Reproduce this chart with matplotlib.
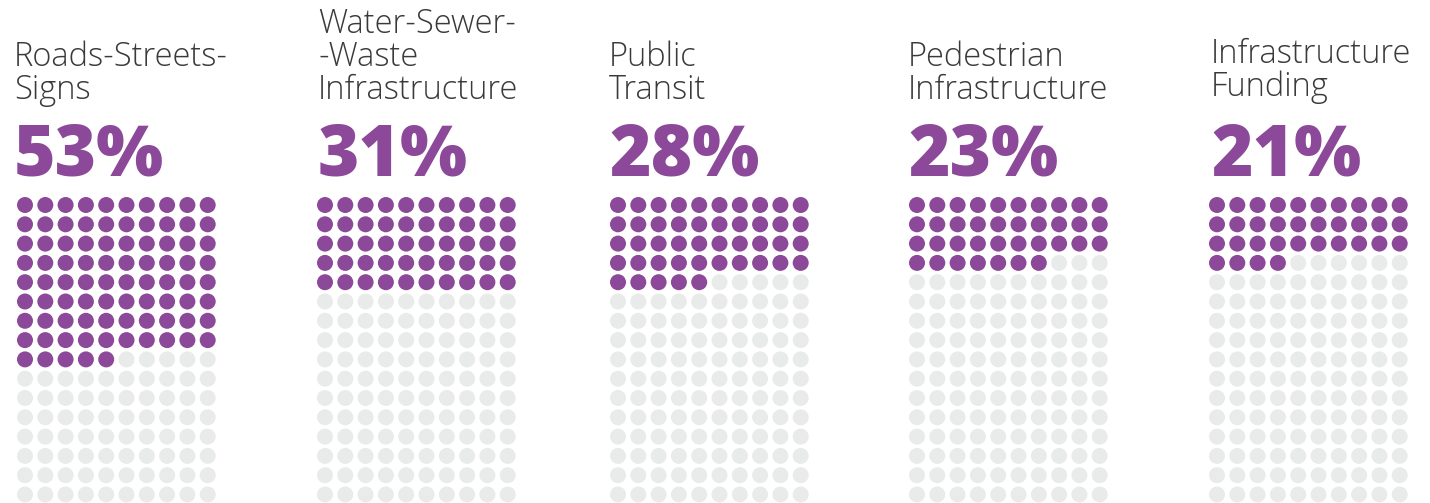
import matplotlib
matplotlib.use("Agg")
import matplotlib.pyplot as plt
import numpy as np

# ---- data ----
categories = [
    ["Roads-Streets-", "Signs"],
    ["Water-Sewer-", "-Waste", "Infrastructure"],
    ["Public", "Transit"],
    ["Pedestrian", "Infrastructure"],
    ["Infrastructure", "Funding"],
]
percents = [53, 31, 28, 23, 21]
n_cols = 10
n_rows = 16

# ---- style / layout ----
W, H = 1430, 503
purple = "#8C4899"
grey = "#E9EAEA"
title_color = "#3a3a3a"
panel_x = [25, 325, 618, 917, 1217]      # first dot centre per panel (px)
text_x = [14, 318, 609, 908, 1211]
dot_top = 205
dx, dy = 20.3, 19.3
dot_d = 16  # px

fig = plt.figure(figsize=(W / 100, H / 100), dpi=100)
ax = fig.add_axes([0, 0, 1, 1])
ax.set_xlim(0, W)
ax.set_ylim(H, 0)
ax.axis("off")

s = (dot_d * 72 / 100) ** 2

for i, (lines, p) in enumerate(zip(categories, percents)):
    n_on = int(round(p * n_cols * n_rows / 100))
    idx = np.arange(n_cols * n_rows)
    cx = panel_x[i] + (idx % n_cols) * dx
    cy = dot_top + (idx // n_cols) * dy
    colors = np.where(idx < n_on, purple, grey)
    ax.scatter(cx, cy, s=s, c=colors, linewidths=0, zorder=2)

    base = 99 if i != 4 else 96
    for k, line in enumerate(reversed(lines)):
        ax.text(text_x[i], base - k * 33, line, fontsize=23.5, family="Open Sans",
                fontweight="light", color=title_color, va="baseline", ha="left")
    ax.text(text_x[i], 175, f"{p}%", fontsize=51, family="Open Sans",
            fontweight="heavy", color=purple, va="baseline", ha="left")

fig.savefig("out.png", dpi=100)
